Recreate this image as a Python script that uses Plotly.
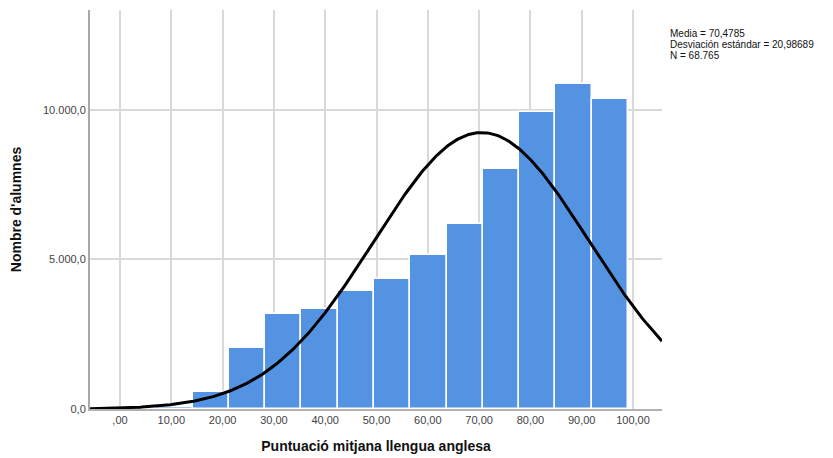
import numpy as np
import plotly.graph_objects as go

# Data
bin_width = 99 / 14
bin_starts = [i * bin_width for i in range(14)]
counts = [20, 60, 580, 2040, 3180, 3360, 3930, 4330, 5160, 6180, 8040, 9920, 10860, 10370]

mean = 70.4785
sd = 20.98689
n_total = 68765

x_tickvals = [0, 10, 20, 30, 40, 50, 60, 70, 80, 90, 100]
x_ticktext = [",00", "10,00", "20,00", "30,00", "40,00", "50,00", "60,00", "70,00", "80,00", "90,00", "100,00"]
y_tickvals = [0, 5000, 10000]
y_ticktext = ["0,0", "5.000,0", "10.000,0"]
stats_lines = ["Media = 70,4785", "Desviación estándar = 20,98689", "N = 68.765"]

x_range = [-5.85, 105.65]
y_range = [0, 13340]

centers = [s + bin_width / 2 for s in bin_starts]

xs = np.linspace(x_range[0], x_range[1], 400)
ys = n_total * bin_width / (sd * np.sqrt(2 * np.pi)) * np.exp(-0.5 * ((xs - mean) / sd) ** 2)

fig = go.Figure()
fig.add_trace(go.Bar(
    x=centers, y=counts, width=[bin_width] * len(counts),
    marker=dict(color="rgb(84,147,226)", line=dict(color="white", width=1.5)),
    showlegend=False, hoverinfo="skip",
))
fig.add_trace(go.Scatter(
    x=xs, y=ys, mode="lines", line=dict(color="black", width=3),
    showlegend=False, hoverinfo="skip", cliponaxis=True,
))

annotations = []
for i, line in enumerate(stats_lines):
    annotations.append(dict(
        xref="paper", yref="paper", x=1.01, y=0.940 - i * 0.0265,
        xanchor="left", yanchor="middle", text=line,
        showarrow=False, align="left", font=dict(size=10, color="#111"),
    ))

fig.update_layout(
    width=825, height=450,
    margin=dict(l=82, r=171, t=2, b=49, autoexpand=False),
    paper_bgcolor="white", plot_bgcolor="white",
    font=dict(family="Liberation Sans, Arial, sans-serif"),
    bargap=0,
    xaxis=dict(
        range=x_range, tickvals=x_tickvals, ticktext=x_ticktext,
        showgrid=True, gridcolor="#d9d9d9", gridwidth=1.5,
        showline=True, linecolor="#b0b0b0", linewidth=1.5,
        zeroline=False, ticks="", tickfont=dict(size=11, color="#444"),
        automargin=False,
        title=dict(text="<b>Puntuació mitjana llengua anglesa</b>", font=dict(size=14, color="#111"), standoff=16),
    ),
    yaxis=dict(
        range=y_range, tickvals=y_tickvals, ticktext=y_ticktext,
        showgrid=True, gridcolor="#d9d9d9", gridwidth=1.5,
        showline=True, linecolor="#a8a8a8", linewidth=2,
        zeroline=False, ticks="", tickfont=dict(size=11, color="#444"),
        automargin=False,
        title=dict(text="<b>Nombre d'alumnes</b>", font=dict(size=14, color="#111"), standoff=18),
    ),
    annotations=annotations,
)

fig.write_html("out.html")
